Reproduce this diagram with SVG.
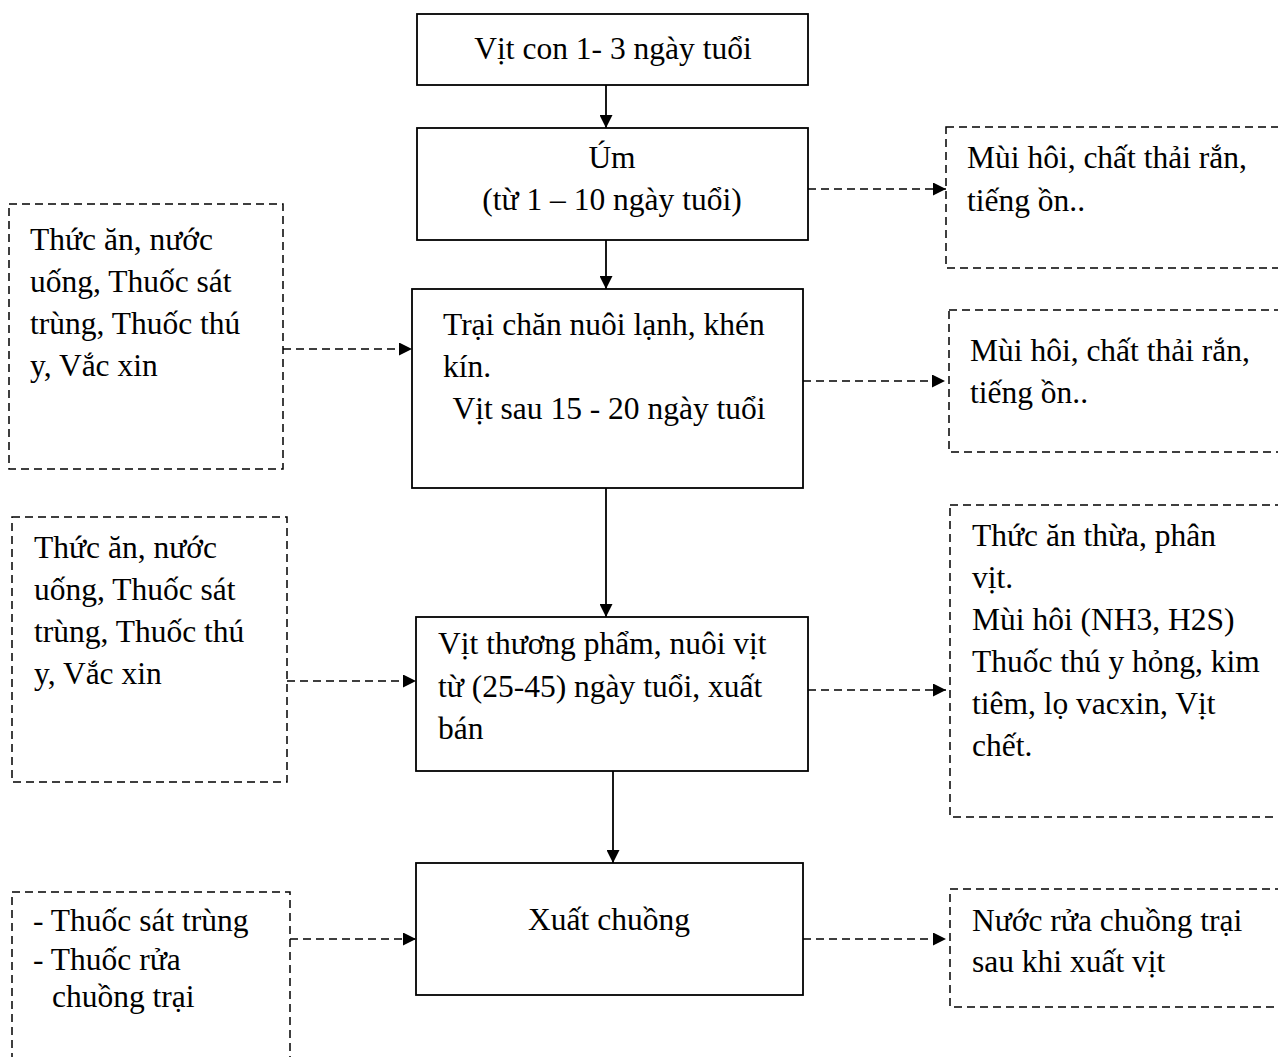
<svg xmlns="http://www.w3.org/2000/svg" width="1278" height="1057" viewBox="0 0 1278 1057">
<defs>
<marker id="ah" markerWidth="13" markerHeight="13" refX="13" refY="6.5" orient="auto" markerUnits="userSpaceOnUse">
<path d="M0,0 L13,6.5 L0,13 Z" fill="#000"/>
</marker>
<style>
text{font-family:"Liberation Serif","Times New Roman",serif;font-size:31.5px;fill:#000}
.box{fill:#fff;stroke:#000;stroke-width:1.8}
.dbox{fill:#fff;stroke:#000;stroke-width:1.5;stroke-dasharray:8 5}
.solid{stroke:#000;stroke-width:1.8;fill:none}
.dash{stroke:#000;stroke-width:1.5;stroke-dasharray:8 5;fill:none}
.c{text-anchor:middle}
</style>
</defs>
<rect width="1278" height="1057" fill="#fff"/>
<g id="connectors">
<line class="solid" x1="606" y1="85" x2="606" y2="128" marker-end="url(#ah)"/>
<line class="solid" x1="606" y1="240" x2="606" y2="289" marker-end="url(#ah)"/>
<line class="solid" x1="606" y1="488" x2="606" y2="617" marker-end="url(#ah)"/>
<line class="solid" x1="613" y1="771" x2="613" y2="863" marker-end="url(#ah)"/>
<line class="dash" x1="808" y1="189" x2="946" y2="189" marker-end="url(#ah)"/>
<line class="dash" x1="803" y1="381" x2="945" y2="381" marker-end="url(#ah)"/>
<line class="dash" x1="808" y1="690" x2="946" y2="690" marker-end="url(#ah)"/>
<line class="dash" x1="803" y1="939" x2="946" y2="939" marker-end="url(#ah)"/>
<line class="dash" x1="283" y1="349" x2="412" y2="349" marker-end="url(#ah)"/>
<line class="dash" x1="287" y1="681" x2="416" y2="681" marker-end="url(#ah)"/>
<line class="dash" x1="290" y1="939" x2="416" y2="939" marker-end="url(#ah)"/>
</g>
<g id="n1">
<rect class="box" x="417" y="14" width="391" height="71"/>
<text class="c" x="613" y="59">Vịt con 1- 3 ngày tuổi</text>
</g>
<g id="n2">
<rect class="box" x="417" y="128" width="391" height="112"/>
<text class="c" x="612" y="168">Úm</text>
<text class="c" x="612" y="210">(từ 1 – 10 ngày tuổi)</text>
</g>
<g id="n3">
<rect class="box" x="412" y="289" width="391" height="199"/>
<text x="443" y="335">Trại chăn nuôi lạnh, khén</text>
<text x="443" y="377">kín.</text>
<text class="c" x="609" y="419">Vịt sau 15 - 20 ngày tuổi</text>
</g>
<g id="n4">
<rect class="box" x="416" y="617" width="392" height="154"/>
<text x="438" y="654">Vịt thương phẩm, nuôi vịt</text>
<text x="438" y="697">từ (25-45) ngày tuổi, xuất</text>
<text x="438" y="739">bán</text>
</g>
<g id="n5">
<rect class="box" x="416" y="863" width="387" height="132"/>
<text class="c" x="609" y="930">Xuất chuồng</text>
</g>
<g id="in1">
<rect class="dbox" x="9" y="204" width="274" height="265"/>
<text x="30" y="250">Thức ăn, nước</text>
<text x="30" y="292">uống, Thuốc sát</text>
<text x="30" y="334">trùng, Thuốc thú</text>
<text x="30" y="376">y, Vắc xin</text>
</g>
<g id="in2">
<rect class="dbox" x="12" y="517" width="275" height="265"/>
<text x="34" y="558">Thức ăn, nước</text>
<text x="34" y="600">uống, Thuốc sát</text>
<text x="34" y="642">trùng, Thuốc thú</text>
<text x="34" y="684">y, Vắc xin</text>
</g>
<g id="in3">
<rect class="dbox" x="12" y="892" width="278" height="190"/>
<text x="33" y="931">- Thuốc sát trùng</text>
<text x="33" y="970">- Thuốc rửa</text>
<text x="52" y="1007">chuồng trại</text>
</g>
<g id="out1">
<rect class="dbox" x="946" y="127" width="350" height="141"/>
<text x="967" y="168">Mùi hôi, chất thải rắn,</text>
<text x="967" y="211">tiếng ồn..</text>
</g>
<g id="out2">
<rect class="dbox" x="949" y="310" width="350" height="142"/>
<text x="970" y="361">Mùi hôi, chất thải rắn,</text>
<text x="970" y="403">tiếng ồn..</text>
</g>
<g id="out3">
<rect class="dbox" x="950" y="505" width="350" height="312"/>
<text x="972" y="546">Thức ăn thừa, phân</text>
<text x="972" y="588">vịt.</text>
<text x="972" y="630">Mùi hôi (NH3, H2S)</text>
<text x="972" y="672">Thuốc thú y hỏng, kim</text>
<text x="972" y="714">tiêm, lọ vacxin, Vịt</text>
<text x="972" y="756">chết.</text>
</g>
<g id="out4">
<rect class="dbox" x="950" y="889" width="350" height="118"/>
<text x="972" y="931">Nước rửa chuồng trại</text>
<text x="972" y="972">sau khi xuất vịt</text>
</g>
</svg>
